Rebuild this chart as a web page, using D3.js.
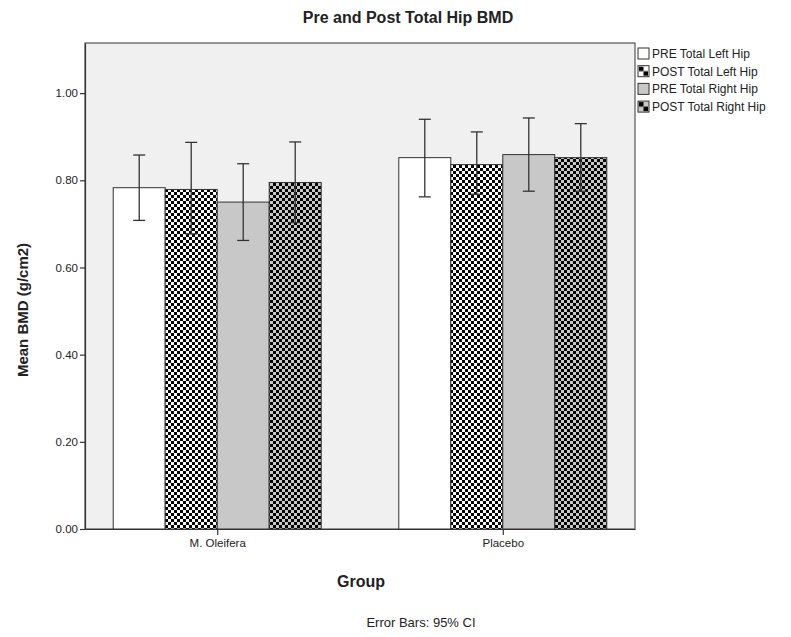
<!DOCTYPE html>
<html lang="en">
<head>
<meta charset="UTF-8">
<title>Pre and Post Total Hip BMD</title>
<script src="https://cdn.jsdelivr.net/npm/d3@7"></script>
<style>
    body{margin:0;background:#fff;}
    text{font-family:"Liberation Sans",Arial,sans-serif;fill:#222;}
</style>
</head>
<body>
<svg width="791" height="637"></svg>
<script>
    // data
    var groups = ["M. Oleifera", "Placebo"];
    var series = ["PRE Total Left Hip", "POST Total Left Hip", "PRE Total Right Hip", "POST Total Right Hip"];
    var oleiferaMean = [0.783, 0.779, 0.750, 0.795];
    var oleiferaLow  = [0.708, 0.677, 0.662, 0.703];
    var oleiferaHigh = [0.858, 0.887, 0.838, 0.888];
    var placeboMean  = [0.852, 0.836, 0.859, 0.852];
    var placeboLow   = [0.762, 0.768, 0.775, 0.775];
    var placeboHigh  = [0.940, 0.911, 0.943, 0.930];
    var yTicks = [0, 0.2, 0.4, 0.6, 0.8, 1.0];

    var rows = [];
    groups.forEach(function(g, gi){
        var m = gi == 0 ? oleiferaMean : placeboMean;
        var lo = gi == 0 ? oleiferaLow : placeboLow;
        var hi = gi == 0 ? oleiferaHigh : placeboHigh;
        series.forEach(function(s, si){
            rows.push({group:g, series:s, si:si, mean:m[si], low:lo[si], high:hi[si]});
        });
    });

    var svg = d3.select("svg");
    var plotL = 85, plotR = 635, plotT = 43, plotB = 529;

    var defs = svg.append("defs");
    function checker(id, bg){
        var p = defs.append("pattern").attr("id", id)
            .attr("patternUnits","userSpaceOnUse").attr("width",6).attr("height",6);
        p.append("rect").attr("width",6).attr("height",6).attr("fill",bg);
        p.append("rect").attr("width",3).attr("height",3).attr("fill","#000");
        p.append("rect").attr("x",3).attr("y",3).attr("width",3).attr("height",3).attr("fill","#000");
    }
    checker("chkW", "#fff");
    checker("chkG", "#c8c8c8");
    function legendChecker(id, bg){
        var p = defs.append("pattern").attr("id", id)
            .attr("patternUnits","userSpaceOnUse").attr("width",11).attr("height",11);
        p.append("rect").attr("width",11).attr("height",11).attr("fill",bg);
        p.append("rect").attr("x",1).attr("y",1).attr("width",4.5).attr("height",4.5).attr("fill","#000");
        p.append("rect").attr("x",5.5).attr("y",5.5).attr("width",4.5).attr("height",4.5).attr("fill","#000");
    }
    legendChecker("lchkW", "#fff");
    legendChecker("lchkG", "#c8c8c8");

    var fills = ["#fff", "url(#chkW)", "#c8c8c8", "url(#chkG)"];
    var legendFills = ["#fff", "url(#lchkW)", "#c8c8c8", "url(#lchkG)"];

    var y = d3.scaleLinear().domain([0, 1.115]).range([plotB, plotT]);
    var x0 = d3.scalePoint().domain(groups).range([plotL, plotR]).padding(0.463);
    var x1 = d3.scaleBand().domain(series).range([-104, 104]);

    // plot background
    svg.append("rect")
        .attr("x", plotL).attr("y", plotT)
        .attr("width", plotR-plotL).attr("height", plotB-plotT)
        .attr("fill", "#f0f0f0")
        .attr("stroke", "#555").attr("stroke-width", 1.2);

    // bars
    svg.append("g").selectAll("rect")
        .data(rows)
        .enter()
        .append("rect")
        .attr("x", function(d){ return x0(d.group) + x1(d.series); })
        .attr("y", function(d){ return y(d.mean); })
        .attr("width", x1.bandwidth())
        .attr("height", function(d){ return y(0) - y(d.mean); })
        .attr("fill", function(d){ return fills[d.si]; })
        .attr("stroke", "#333").attr("stroke-width", 1);

    // error bars
    var eb = svg.append("g").attr("stroke", "#333").attr("stroke-width", 1.3);
    rows.forEach(function(d){
        var cx = x0(d.group) + x1(d.series) + x1.bandwidth()/2;
        eb.append("line").attr("x1", cx).attr("x2", cx).attr("y1", y(d.low)).attr("y2", y(d.high));
        eb.append("line").attr("x1", cx-6).attr("x2", cx+6).attr("y1", y(d.low)).attr("y2", y(d.low));
        eb.append("line").attr("x1", cx-6).attr("x2", cx+6).attr("y1", y(d.high)).attr("y2", y(d.high));
    });

    // axes
    var yAxis = svg.append("g")
        .attr("transform", "translate(" + plotL + ",0)")
        .call(d3.axisLeft(y).tickValues(yTicks).tickFormat(d3.format(".2f")).tickSize(5).tickSizeOuter(0));
    var xAxis = svg.append("g")
        .attr("transform", "translate(0," + plotB + ")")
        .call(d3.axisBottom(x0).tickSize(6).tickSizeOuter(0));
    [yAxis, xAxis].forEach(function(a){
        a.select(".domain").attr("stroke", "#333").attr("stroke-width", 1.2);
        a.selectAll(".tick line").attr("stroke", "#333").attr("stroke-width", 1.2);
        a.selectAll("text").style("font-family", "'Liberation Sans',Arial,sans-serif").style("font-size", "11.5px").attr("fill", "#222");
    });
    yAxis.selectAll("text").attr("x", -7);
    xAxis.selectAll("text").attr("y", 10);

    // titles
    svg.append("text").attr("x", 408).attr("y", 23).attr("text-anchor", "middle")
        .style("font-size", "16px").style("font-weight", "bold").text("Pre and Post Total Hip BMD");
    svg.append("text").attr("x", 361).attr("y", 587).attr("text-anchor", "middle")
        .style("font-size", "16px").style("font-weight", "bold").text("Group");
    svg.append("text").attr("transform", "translate(28,310) rotate(-90)").attr("text-anchor", "middle")
        .style("font-size", "15px").style("font-weight", "bold").text("Mean BMD (g/cm2)");
    svg.append("text").attr("x", 421).attr("y", 627).attr("text-anchor", "middle")
        .style("font-size", "13px").text("Error Bars: 95% CI");

    // legend
    var lg = svg.append("g").attr("transform", "translate(638,48)");
    series.forEach(function(s, i){
        var row = lg.append("g").attr("transform", "translate(0," + (i*17.7) + ")");
        row.append("rect").attr("width", 11).attr("height", 11)
            .attr("fill", legendFills[i]).attr("stroke", "#333").attr("stroke-width", 1);
        row.append("text").attr("x", 14).attr("y", 10).style("font-size", "12px").text(s);
    });
</script>
</body>
</html>
